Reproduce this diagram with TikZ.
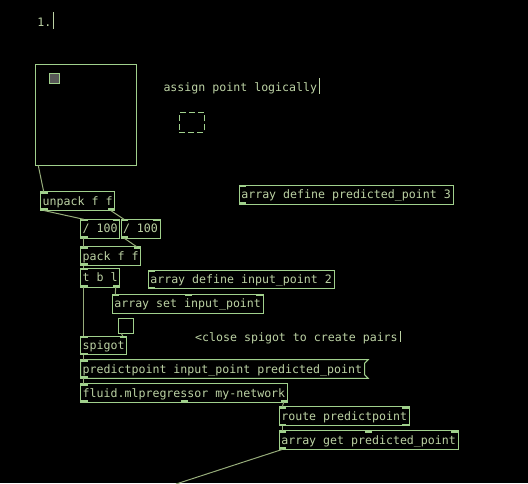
\documentclass[tikz,border=0pt]{standalone}
\usepackage{fontspec}
\newfontfamily\pdfont{DejaVu Sans Mono}
\usetikzlibrary{calc}
\definecolor{boxc}{RGB}{160,208,140}
\definecolor{textc}{RGB}{188,210,164}
\definecolor{wirec}{RGB}{150,172,122}
\definecolor{grayc}{RGB}{88,88,88}
\newcommand\tb[2]{\makebox[#1pt][l]{#2}}
\newcommand\inL[1]{\fill[io] ($(#1.north west)+(-0.5,-0.5)$) rectangle ++(7.5,2.6);}
\newcommand\inR[1]{\fill[io] ($(#1.north east)+(0.5,-0.5)$) rectangle ++(-7.5,2.6);}
\newcommand\inM[2]{\fill[io] ($(#1.north west)+(#2,-0.5)$) rectangle ++(7,2.6);}
\newcommand\outL[1]{\fill[io] ($(#1.south west)+(-0.5,0.5)$) rectangle ++(7.5,-2.6);}
\newcommand\outR[1]{\fill[io] ($(#1.south east)+(0.5,0.5)$) rectangle ++(-7.5,-2.6);}
\newcommand\outM[2]{\fill[io] ($(#1.south west)+(#2,0.5)$) rectangle ++(7,-2.6);}
\begin{document}
\begin{tikzpicture}[x=1pt,y=-1pt,
  pdf/.style={font=\pdfont\fontsize{11.6}{14}\selectfont},
  obj/.style={pdf, draw=boxc, line width=1pt, anchor=north west, outer sep=0pt,
    inner xsep=2pt, inner ysep=0pt,
    text height=13.5pt, text depth=5.3pt, text=textc},
  msgbox/.style={obj, draw=none},
  gui/.style={draw=boxc, line width=1pt, anchor=north west, outer sep=0pt, inner sep=0pt},
  cmt/.style={pdf, anchor=base west, inner sep=0pt, text=textc},
  io/.style={fill=boxc},
  wire/.style={draw=wirec, line width=1pt},
  cursor/.style={draw=textc, line width=1pt}]
\path[use as bounding box, fill=black] (0,0) rectangle (528,483);

% comments
\node[cmt] (c1) at (37.3,26) {1.};
\draw[cursor] (53.3,12) -- (53.3,28.7);
\node[cmt] (c2) at (163.3,91) {assign point logically};
\draw[cursor] (319.7,78) -- (319.7,94);
\node[cmt] (c3) at (195,341.5) {<close spigot to create pairs};
\draw[cursor] (400,331) -- (400,342.3);

% GUI objects
\node[gui, minimum size=101.4pt] (big) at (35.3,64.3) {};
\node[gui, fill=grayc, minimum size=10.6pt] (knob) at (49.1,73.1) {};
\node[gui, dash pattern=on 6pt off 3pt, minimum width=25pt, minimum height=19.6pt] (newobj) at (179.3,112.7) {};
\node[gui, minimum size=15pt] (tog) at (118.3,318.3) {};

% object boxes
\node[obj] (defpred) at (239.3,185.3) {\tb{210}{array define predicted\_point 3}};
\node[obj] (unpack) at (40.7,191.7) {\tb{70}{unpack f f}};
\node[obj] (div1) at (80.7,219.3) {\tb{35}{/ 100}};
\node[obj] (div2) at (121,219.3) {\tb{35}{/ 100}};
\node[obj] (pack) at (80.7,246.7) {\tb{56}{pack f f}};
\node[obj] (tbl) at (80.7,268.3) {\tb{35}{t b l}};
\node[obj] (defin) at (148.3,270) {\tb{182}{array define input\_point 2}};
\node[obj] (setin) at (112.3,294.3) {\tb{147}{array set input\_point}};
\node[obj] (spigot) at (80.7,336) {\tb{42}{spigot}};
\node[msgbox] (msg) at (80.7,359.6) {\tb{280}{predictpoint input\_point predicted\_point}};
\draw[boxc, line width=1pt] (msg.north west) -- ($(msg.north east)+(3.5,0)$) -- ($(msg.north east)+(0,3.5)$)
  -- ($(msg.south east)+(0,-3.5)$) -- ($(msg.south east)+(3.5,0)$) -- (msg.south west) -- cycle;
\node[obj] (mlp) at (80.7,383.5) {\tb{203}{fluid.mlpregressor my-network}};
\node[obj] (route) at (279.3,406.8) {\tb{126}{route predictpoint}};
\node[obj] (aget) at (279.3,430.6) {\tb{175}{array get predicted\_point}};
\coordinate (offend) at (176,484);

% iolets
\inL{defpred}\outL{defpred}
\inL{unpack}\outL{unpack}\outR{unpack}
\inL{div1}\inR{div1}\outL{div1}
\inL{div2}\inR{div2}\outL{div2}
\inL{pack}\inR{pack}\outL{pack}
\inL{tbl}\outL{tbl}\outR{tbl}
\inL{defin}\outL{defin}
\inL{setin}\inM{setin}{72.5}\inR{setin}
\inL{spigot}\inR{spigot}\outL{spigot}
\inL{msg}\outL{msg}
\inL{mlp}\outL{mlp}\outM{mlp}{99.8}\outR{mlp}
\inL{route}\inR{route}\outL{route}\outR{route}
\inL{aget}\inM{aget}{86}\inR{aget}\outL{aget}

% wires
\draw[wire] ($(big.south west)+(3,0)$) -- ($(unpack.north west)+(3,0)$);
\draw[wire] ($(unpack.south west)+(3,0)$) -- ($(div1.north west)+(3,0)$);
\draw[wire] ($(unpack.south east)+(-4,0)$) -- ($(div2.north west)+(3,0)$);
\draw[wire] ($(div1.south west)+(3,0)$) -- ($(pack.north west)+(3,0)$);
\draw[wire] ($(div2.south west)+(3,0)$) -- ($(pack.north east)+(-4,0)$);
\draw[wire] ($(pack.south west)+(3,0)$) -- ($(tbl.north west)+(3,0)$);
\draw[wire] ($(tbl.south west)+(3,0)$) -- ($(spigot.north west)+(3,0)$);
\draw[wire] ($(tbl.south east)+(-4,0)$) -- ($(setin.north west)+(3,0)$);
\draw[wire] ($(tog.south west)+(3,0)$) -- ($(spigot.north east)+(-4,0)$);
\draw[wire] ($(spigot.south west)+(3,0)$) -- ($(msg.north west)+(3,0)$);
\draw[wire] ($(msg.south west)+(3,0)$) -- ($(mlp.north west)+(3,0)$);
\draw[wire] ($(mlp.south east)+(-4,0)$) -- ($(route.north west)+(3,0)$);
\draw[wire] ($(route.south west)+(3,0)$) -- ($(aget.north west)+(3,0)$);
\draw[wire] ($(aget.south west)+(3,0)$) -- (offend);
\end{tikzpicture}
\end{document}
